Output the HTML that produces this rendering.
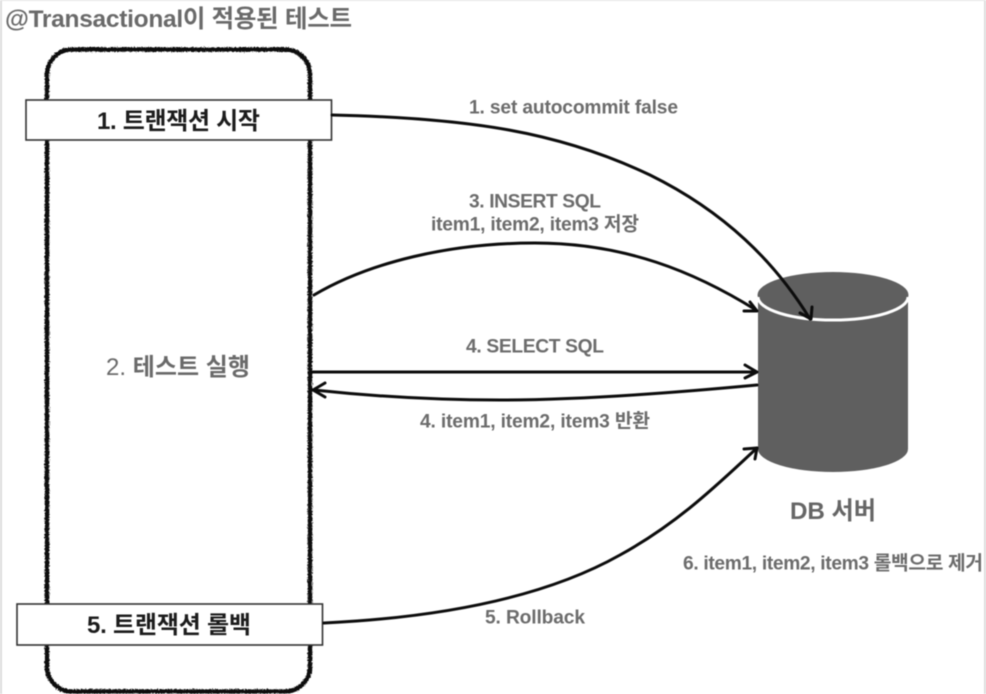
<!DOCTYPE html>
<html><head><meta charset="utf-8"><style>
html,body{margin:0;padding:0;background:#fff;width:986px;height:694px;overflow:hidden}
svg{display:block;filter:blur(.4px)}
text{font-family:"Liberation Sans","Noto Sans CJK KR",sans-serif;font-weight:700}
</style></head><body>
<svg width="986" height="694" viewBox="0 0 986 694" xmlns="http://www.w3.org/2000/svg">
<defs>
<filter id="rough" x="-5%" y="-5%" width="110%" height="110%">
<feTurbulence type="fractalNoise" baseFrequency="0.7" numOctaves="2" seed="4" result="n"/>
<feDisplacementMap in="SourceGraphic" in2="n" scale="3.4" xChannelSelector="R" yChannelSelector="G"/>
</filter>
</defs>
<rect width="986" height="694" fill="#fff"/>
<rect x="0" y="0" width="2" height="694" fill="#dcdcdc"/>
<rect x="984" y="0" width="2" height="694" fill="#dcdcdc"/>
<rect x="0" y="0" width="986" height="1" fill="#e4e4e4"/>
<text x="5" y="27" font-size="24.500" textLength="347" fill="#6a6a6a">@Transactional이 적용된 테스트</text>

<rect x="47" y="49.500" width="263" height="642" rx="25" ry="25" fill="#fff" stroke="#111" stroke-width="4.500" filter="url(#rough)"/>

<g fill="#fff" stroke="#333" stroke-width="1.600">
<rect x="26" y="100" width="305.500" height="40"/>
<rect x="17" y="604" width="305.500" height="41"/>
</g>
<text x="97" y="129" font-size="24" textLength="163" fill="#1c1c1c">1. 트랜잭션 시작</text>
<text x="87" y="633" font-size="24" textLength="164" fill="#1c1c1c">5. 트랜잭션 롤백</text>
<text x="106" y="375" font-size="24" textLength="144" fill="#6a6a6a"><tspan font-weight="400">2.</tspan> 테스트 실행</text>

<path d="M758 295V449A75 23 0 0 0 908 449V295Z" fill="#5f5f5f"/>
<ellipse cx="833" cy="295" rx="75.500" ry="23" fill="#5f5f5f"/>
<path d="M758 297A75 23 0 0 0 908 297" fill="none" stroke="#fff" stroke-width="3"/>
<text x="790" y="519" font-size="24.200" textLength="86" fill="#666">DB 서버</text>

<g fill="none" stroke="#0c0c0c" stroke-width="3" stroke-linecap="round" stroke-linejoin="round">
<path d="M332 115C470 118 560 132 650 175C725 212 775 262 810 319"/>
<path d="M800 313L811 319L812 307"/>
<path d="M314 295C370 262 450 243 535 243C625 243 695 272 756 310"/>
<path d="M744 311L757 311L750 302"/>
<path d="M312 372H756"/>
<path d="M745 365L757 372L745 378"/>
<path d="M757 385C640 396 560 400 500 400C430 400 370 396 314 390"/>
<path d="M325 383L313 390L325 397"/>
<path d="M324 623C430 618 540 600 620 555C680 522 720 482 757 448"/>
<path d="M744 449L757 448L755 459"/>
</g>

<g font-size="19.200" fill="#6c6c6c">
<text x="469" y="113.500" textLength="209">1. set autocommit false</text>
<text x="469" y="207.500" textLength="132">3. INSERT SQL</text>
<text x="431" y="230.500" textLength="208">item1, item2, item3 저장</text>
<text x="466" y="352.500" textLength="138">4. SELECT SQL</text>
<text x="420" y="427.500" textLength="230">4. item1, item2, item3 반환</text>
<text x="683" y="569.500" textLength="300">6. item1, item2, item3 롤백으로 제거</text>
<text x="485" y="623.500" textLength="100">5. Rollback</text>
</g>
</svg>
</body></html>
